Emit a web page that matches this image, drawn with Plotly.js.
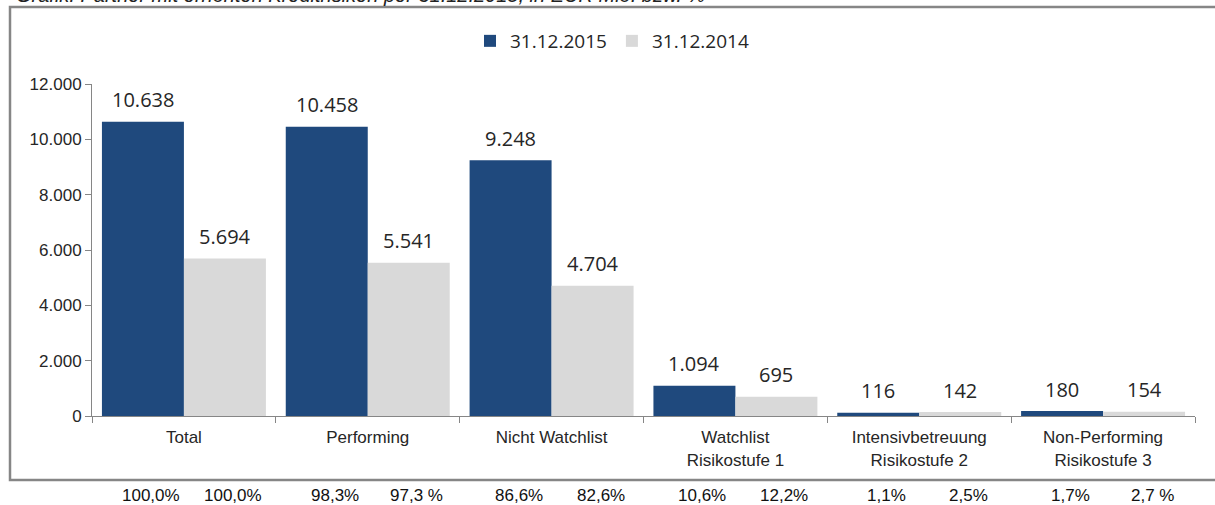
<!DOCTYPE html>
<html>
<head>
<meta charset="utf-8">
<script src="https://cdn.plot.ly/plotly-3.0.1.min.js"></script>
<style>html,body{margin:0;padding:0;background:#fff;}#chart{width:1215px;height:505px;}</style>
</head>
<body>
<div id="chart"></div>
<script>
const categories = ["Total", "Performing", "Nicht Watchlist", "Watchlist<br>Risikostufe 1", "Intensivbetreuung<br>Risikostufe 2", "Non-Performing<br>Risikostufe 3"];
const seriesNames = ["31.12.2015", "31.12.2014"];
const values2015 = [10638, 10458, 9248, 1094, 116, 180];
const values2014 = [5694, 5541, 4704, 695, 142, 154];
const pct2015 = ["100,0%", "98,3%", "86,6%", "10,6%", "1,1%", "1,7%"];
const pct2014 = ["100,0%", "97,3 %", "82,6%", "12,2%", "2,5%", "2,7 %"];
const yTicks = [0, 2000, 4000, 6000, 8000, 10000, 12000];
const titleText = "Grafik: Partner mit erhöhten Kreditrisiken per 31.12.2015, in EUR Mio. bzw. %";

const BLUE = "#1F497D", GREY = "#D9D9D9", AXIS = "#868686";
const W = 1215, H = 505, ML = 92, MR = 20, MT = 84, MB = 89;
const PW = W - ML - MR, PH = H - MT - MB;
const px2x = p => (p - ML) / PW;
const py2y = p => (H - MB - p) / PH;

function fmt(v) { return String(v).replace(/\B(?=(\d{3})+(?!\d))/g, "."); }

const traces = [
  {type: "bar", name: seriesNames[0], x: categories, y: values2015, marker: {color: BLUE}, hoverinfo: "none"},
  {type: "bar", name: seriesNames[1], x: categories, y: values2014, marker: {color: GREY}, hoverinfo: "none"}
];

const annotations = [];
const valFont = {family: "Open Sans", size: 20, color: "#262626"};
const pctFont = {family: "Liberation Sans, Arial", size: 17, color: "#111"};
categories.forEach((c, i) => {
  annotations.push({x: c, y: values2015[i], xref: "x", yref: "y", text: fmt(values2015[i]), showarrow: false, xshift: -41, yshift: 22, yanchor: "middle", font: valFont});
  annotations.push({x: c, y: values2014[i], xref: "x", yref: "y", text: fmt(values2014[i]), showarrow: false, xshift: 41, yshift: 22, yanchor: "middle", font: valFont});
  annotations.push({x: c, y: py2y(496), xref: "x", yref: "paper", text: pct2015[i], showarrow: false, xshift: -33, yanchor: "middle", font: pctFont});
  annotations.push({x: c, y: py2y(496), xref: "x", yref: "paper", text: pct2014[i], showarrow: false, xshift: 49, yanchor: "middle", font: pctFont});
});
annotations.push({x: px2x(14), y: py2y(-5), xref: "paper", yref: "paper", xanchor: "left", yanchor: "middle", text: "<i>" + titleText + "</i>", showarrow: false, font: {family: "Liberation Sans, Arial", size: 20, color: "#222"}});

const layout = {
  width: W, height: H,
  margin: {l: ML, r: MR, t: MT, b: MB, pad: 0},
  paper_bgcolor: "#fff", plot_bgcolor: "#fff",
  separators: ",.",
  barmode: "group", bargap: 0.108, bargroupgap: 0,
  showlegend: true,
  legend: {orientation: "h", x: px2x(612), xanchor: "center", y: py2y(41), yanchor: "middle",
    font: {family: "Open Sans", size: 19, color: "#262626"}, itemclick: false, traceorder: "normal"},
  xaxis: {type: "category", tickson: "boundaries", ticks: "outside", ticklen: 6, tickcolor: AXIS,
    showline: true, linecolor: AXIS, linewidth: 1, showgrid: false, zeroline: false, ticklabelstandoff: 6,
    tickfont: {family: "Liberation Sans, Arial", size: 17, color: "#262626"}, fixedrange: true},
  yaxis: {range: [0, 12000], tickvals: yTicks, tickformat: ",", ticks: "outside", ticklen: 6, tickcolor: AXIS,
    showline: true, linecolor: AXIS, linewidth: 1, showgrid: false, zeroline: false,
    tickfont: {family: "Liberation Sans, Arial", size: 17, color: "#262626"}, fixedrange: true},
  shapes: [{type: "rect", xref: "paper", yref: "paper", x0: px2x(10), x1: px2x(1225), y0: py2y(480), y1: py2y(7),
    line: {color: AXIS, width: 2.5}, fillcolor: "rgba(0,0,0,0)", layer: "below"}],
  annotations: annotations
};

Plotly.newPlot("chart", traces, layout, {displayModeBar: false, staticPlot: true});
</script>
</body>
</html>
